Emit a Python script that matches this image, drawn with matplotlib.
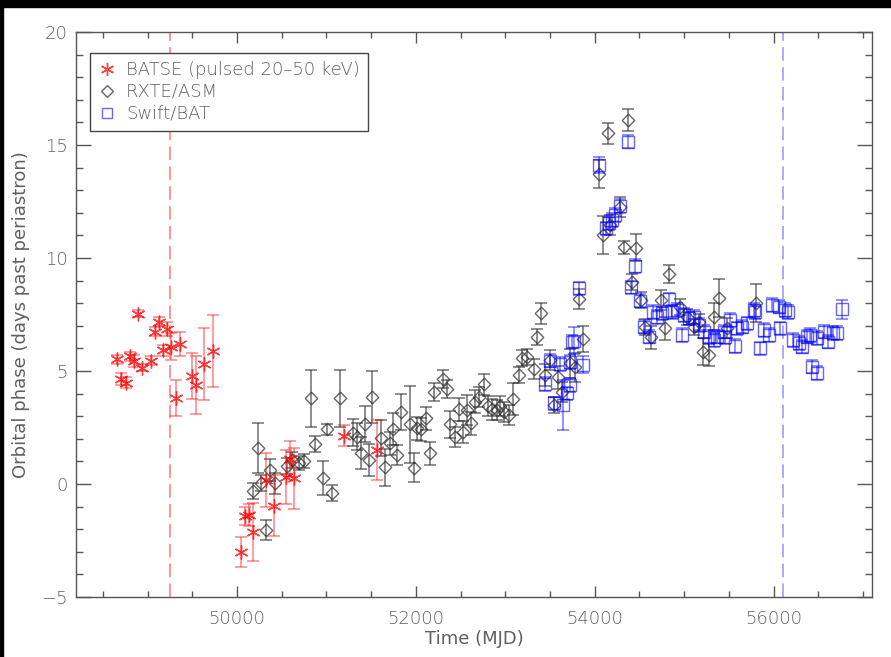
import matplotlib
matplotlib.use("Agg")

import matplotlib.pyplot as plt
from matplotlib.patches import Rectangle
from matplotlib.ticker import MultipleLocator

# BATSE pulsed 20-50 keV: time (MJD), orbital phase (days past periastron), error
batse_mjd = [48663, 48707, 48755, 48803, 48848, 48897, 48942, 49035, 49079, 49127,
             49177, 49221, 49266, 49314, 49359, 49493, 49541, 49635, 49731, 50048,
             50085, 50133, 50178, 50320, 50416, 50543, 50591, 50636, 51195, 51560]
batse_phase = [5.53, 4.65, 4.48, 5.66, 5.44, 7.54, 5.15, 5.46, 6.74, 7.18,
               5.92, 6.86, 6.08, 3.82, 6.18, 4.78, 4.37, 5.30, 5.88, -3.00,
               -1.42, -1.37, -2.12, 0.18, -0.97, 0.32, 1.09, 0.25, 2.14, 1.50]
batse_err = [0.20, 0.25, 0.25, 0.20, 0.25, 0.15, 0.15, 0.20, 0.20, 0.20,
             0.25, 0.30, 0.58, 0.80, 0.53, 1.00, 1.28, 1.60, 1.60, 0.66,
             0.40, 0.50, 1.30, 1.20, 1.35, 1.20, 0.80, 1.35, 0.47, 1.34]

# RXTE/ASM
asm_mjd = [50182, 50234, 50264, 50320, 50368, 50423, 50554, 50618, 50692, 50748,
           50826, 50870, 50964, 51009, 51057, 51150, 51299, 51340, 51381, 51426,
           51474, 51512, 51612, 51660, 51708, 51746, 51791, 51836, 51932, 51977,
           52014, 52059, 52118, 52163, 52208, 52303, 52350, 52387, 52442, 52479,
           52528, 52573, 52618, 52666, 52703, 52759, 52803, 52853, 52908, 52945,
           52982, 53038, 53085, 53150, 53188, 53244, 53317, 53355, 53403, 53448,
           53496, 53541, 53590, 53635, 53728, 53783, 53820, 53865, 54052, 54088,
           54144, 54174, 54278, 54323, 54372, 54417, 54465, 54512, 54565, 54632,
           54741, 54789, 54833, 54956, 55031, 55105, 55161, 55210, 55273, 55337,
           55384, 55478, 55800]
asm_phase = [-0.30, 1.58, 0.03, -2.04, 0.62, 0.03, 0.80, 1.06, 0.94, 1.03,
             3.79, 1.76, 0.25, 2.42, -0.41, 3.79, 2.27, 2.09, 1.36, 2.64,
             1.06, 3.86, 2.02, 0.74, 1.80, 2.43, 1.28, 3.20, 2.64, 0.72,
             2.46, 2.42, 2.91, 1.36, 4.08, 4.63, 4.19, 2.65, 2.09, 3.30,
             2.31, 3.27, 2.69, 3.64, 3.86, 4.41, 3.45, 3.30, 3.27, 3.45,
             3.20, 3.05, 3.76, 4.82, 5.56, 5.63, 5.08, 6.52, 7.55, 4.82,
             5.49, 3.50, 4.72, 4.08, 5.34, 5.16, 8.19, 6.40, 13.72, 11.02,
             15.52, 11.46, 12.27, 10.47, 16.10, 8.95, 10.46, 8.14, 6.96, 6.49,
             8.14, 6.89, 9.29, 7.83, 7.40, 6.96, 7.18, 5.85, 5.71, 7.40,
             8.22, 6.89, 8.00]
asm_err = [0.35, 1.10, 0.35, 0.45, 0.50, 0.45, 0.35, 0.35, 0.30, 0.30,
           1.25, 0.35, 0.75, 0.25, 0.35, 1.25, 0.60, 0.60, 0.70, 0.80,
           0.70, 1.15, 0.80, 0.83, 0.50, 0.70, 0.45, 0.80, 1.70, 0.65,
           0.50, 0.50, 0.50, 0.50, 0.40, 0.40, 0.40, 0.60, 0.45, 0.50,
           0.50, 0.65, 0.50, 0.50, 0.45, 0.45, 0.45, 0.45, 0.45, 0.45,
           0.45, 0.45, 0.70, 0.35, 0.35, 0.35, 0.45, 0.35, 0.45, 0.50,
           0.45, 0.35, 0.50, 0.45, 0.65, 0.65, 0.45, 0.57, 0.63, 0.85,
           0.47, 0.45, 0.45, 0.30, 0.50, 0.35, 0.60, 0.35, 0.35, 0.50,
           0.45, 0.50, 0.40, 0.35, 0.35, 0.35, 0.35, 0.60, 0.50, 0.60,
           0.85, 0.45, 0.85]

# Swift/BAT
bat_mjd = [53448, 53496, 53541, 53608, 53641, 53690, 53728, 53728, 53746, 53772,
           53820, 53869, 54052, 54130, 54155, 54193, 54230, 54278, 54372, 54409,
           54454, 54509, 54546, 54602, 54651, 54696, 54752, 54826, 54863, 54919,
           54975, 54993, 55049, 55105, 55161, 55217, 55273, 55328, 55366, 55440,
           55459, 55515, 55571, 55590, 55646, 55701, 55775, 55794, 55842, 55887,
           55943, 55981, 56055, 56073, 56130, 56166, 56222, 56278, 56316, 56372,
           56409, 56428, 56484, 56484, 56558, 56613, 56669, 56707, 56763]
bat_phase = [4.42, 5.46, 3.57, 5.30, 3.50, 4.01, 4.38, 5.41, 6.30, 6.34,
             8.66, 5.27, 14.12, 11.31, 11.53, 11.68, 11.90, 12.30, 15.15, 8.70,
             9.65, 8.11, 6.96, 6.52, 7.62, 7.40, 7.55, 8.17, 7.62, 7.70,
             6.59, 7.48, 7.33, 7.40, 7.04, 6.74, 6.52, 6.37, 6.52, 6.74,
             6.49, 7.26, 6.11, 6.89, 6.96, 7.11, 7.70, 7.62, 6.00, 6.81,
             6.59, 7.92, 7.85, 6.89, 7.70, 7.62, 6.37, 6.23, 6.08, 6.52,
             6.59, 5.19, 4.90, 6.45, 6.74, 6.30, 6.67, 6.67, 7.73]
bat_err = [0.30, 0.30, 0.30, 0.30, 1.10, 0.30, 0.30, 0.30, 0.30, 0.60,
           0.30, 0.38, 0.35, 0.30, 0.30, 0.30, 0.30, 0.30, 0.30, 0.30,
           0.30, 0.30, 0.30, 0.30, 0.30, 0.30, 0.30, 0.30, 0.30, 0.30,
           0.30, 0.30, 0.30, 0.30, 0.30, 0.30, 0.30, 0.30, 0.30, 0.30,
           0.30, 0.30, 0.30, 0.30, 0.30, 0.30, 0.30, 0.30, 0.30, 0.30,
           0.30, 0.30, 0.30, 0.30, 0.30, 0.30, 0.30, 0.30, 0.30, 0.30,
           0.30, 0.30, 0.30, 0.30, 0.30, 0.30, 0.30, 0.30, 0.43]

# reference epochs marked with dashed lines
batse_epoch = 49250
bat_epoch = 56100

TXT = '#5f5f5f'
AXC = '#555555'
plt.rcParams['font.family'] = 'DejaVu Sans'
plt.rcParams['font.weight'] = 'light'
plt.rcParams['font.size'] = 13

fig = plt.figure(figsize=(8.91, 6.57), dpi=100)
# black edge strips along top and left of the canvas
fig.patches.append(Rectangle((0, 0.989), 1, 0.011, transform=fig.transFigure,
                             color='black', zorder=-1))
fig.patches.append(Rectangle((0, 0), 0.0035, 1, transform=fig.transFigure,
                             color='black', zorder=-1))
ax = fig.add_axes([0.0853, 0.0913, 0.8934, 0.86])

asterisk = (6, 2, 0)
diamond = (4, 0, 0)

ax.axvline(batse_epoch, color='red', alpha=0.45, lw=1.3, dashes=(7.5, 3.5), zorder=1)
ax.axvline(bat_epoch, color='#3333ff', alpha=0.45, lw=1.3, dashes=(7.5, 3.5), zorder=1)

ax.errorbar(asm_mjd, asm_phase, yerr=asm_err, fmt='none', ecolor='#333333',
            alpha=0.65, elinewidth=1.2, capsize=4.5, capthick=1.2, zorder=2)
h_asm, = ax.plot(asm_mjd, asm_phase, ls='none', marker=diamond, ms=9,
                 mfc='none', mec='#333333', mew=1.0, alpha=0.75, zorder=3)

ax.errorbar(bat_mjd, bat_phase, yerr=bat_err, fmt='none', ecolor='#0000ff',
            alpha=0.5, elinewidth=1.2, capsize=4.5, capthick=1.2, zorder=4)
h_bat, = ax.plot(bat_mjd, bat_phase, ls='none', marker='s', ms=8.3,
                 mfc='none', mec='#0000ff', mew=1.0, alpha=0.6, zorder=5)

ax.errorbar(batse_mjd, batse_phase, yerr=batse_err, fmt='none', ecolor='red',
            alpha=0.45, elinewidth=1.2, capsize=4.5, capthick=1.2, zorder=6)
h_batse, = ax.plot(batse_mjd, batse_phase, ls='none', marker=asterisk, ms=10,
                   mfc='none', mec='red', mew=1.0, alpha=0.75, zorder=7)

ax.set_xlim(48200, 57100)
ax.set_ylim(-5, 20)
ax.xaxis.set_major_locator(MultipleLocator(2000))
ax.xaxis.set_minor_locator(MultipleLocator(500))
ax.yaxis.set_major_locator(MultipleLocator(5))
ax.yaxis.set_minor_locator(MultipleLocator(1))

ax.tick_params(which='both', direction='in', top=True, right=True,
               colors=AXC, labelcolor=TXT, labelsize=13, width=1)
ax.tick_params(axis='x', which='major', length=8, pad=9)
ax.tick_params(axis='x', which='minor', length=4)
ax.tick_params(axis='y', which='major', length=11, pad=6)
ax.tick_params(axis='y', which='minor', length=5)
for sp in ax.spines.values():
    sp.set_color(AXC)
    sp.set_linewidth(1)

ax.set_xlabel('Time (MJD)', color=TXT, fontsize=13, labelpad=2)
ax.set_ylabel('Orbital phase (days past periastron)', color=TXT, fontsize=13,
              labelpad=8)

leg = ax.legend([h_batse, h_asm, h_bat],
                ['BATSE (pulsed 20–50 keV)', 'RXTE/ASM', 'Swift/BAT'],
                loc='upper left', bbox_to_anchor=(0.0176, 0.963), borderaxespad=0,
                fancybox=False, framealpha=1, edgecolor='#444444', fontsize=13,
                handlelength=1.0, handletextpad=0.55, labelspacing=0.22,
                borderpad=0.45, markerscale=0.95)
leg.get_frame().set_linewidth(1)
for t in leg.get_texts():
    t.set_color(TXT)

fig.savefig('out.png', dpi=100)
